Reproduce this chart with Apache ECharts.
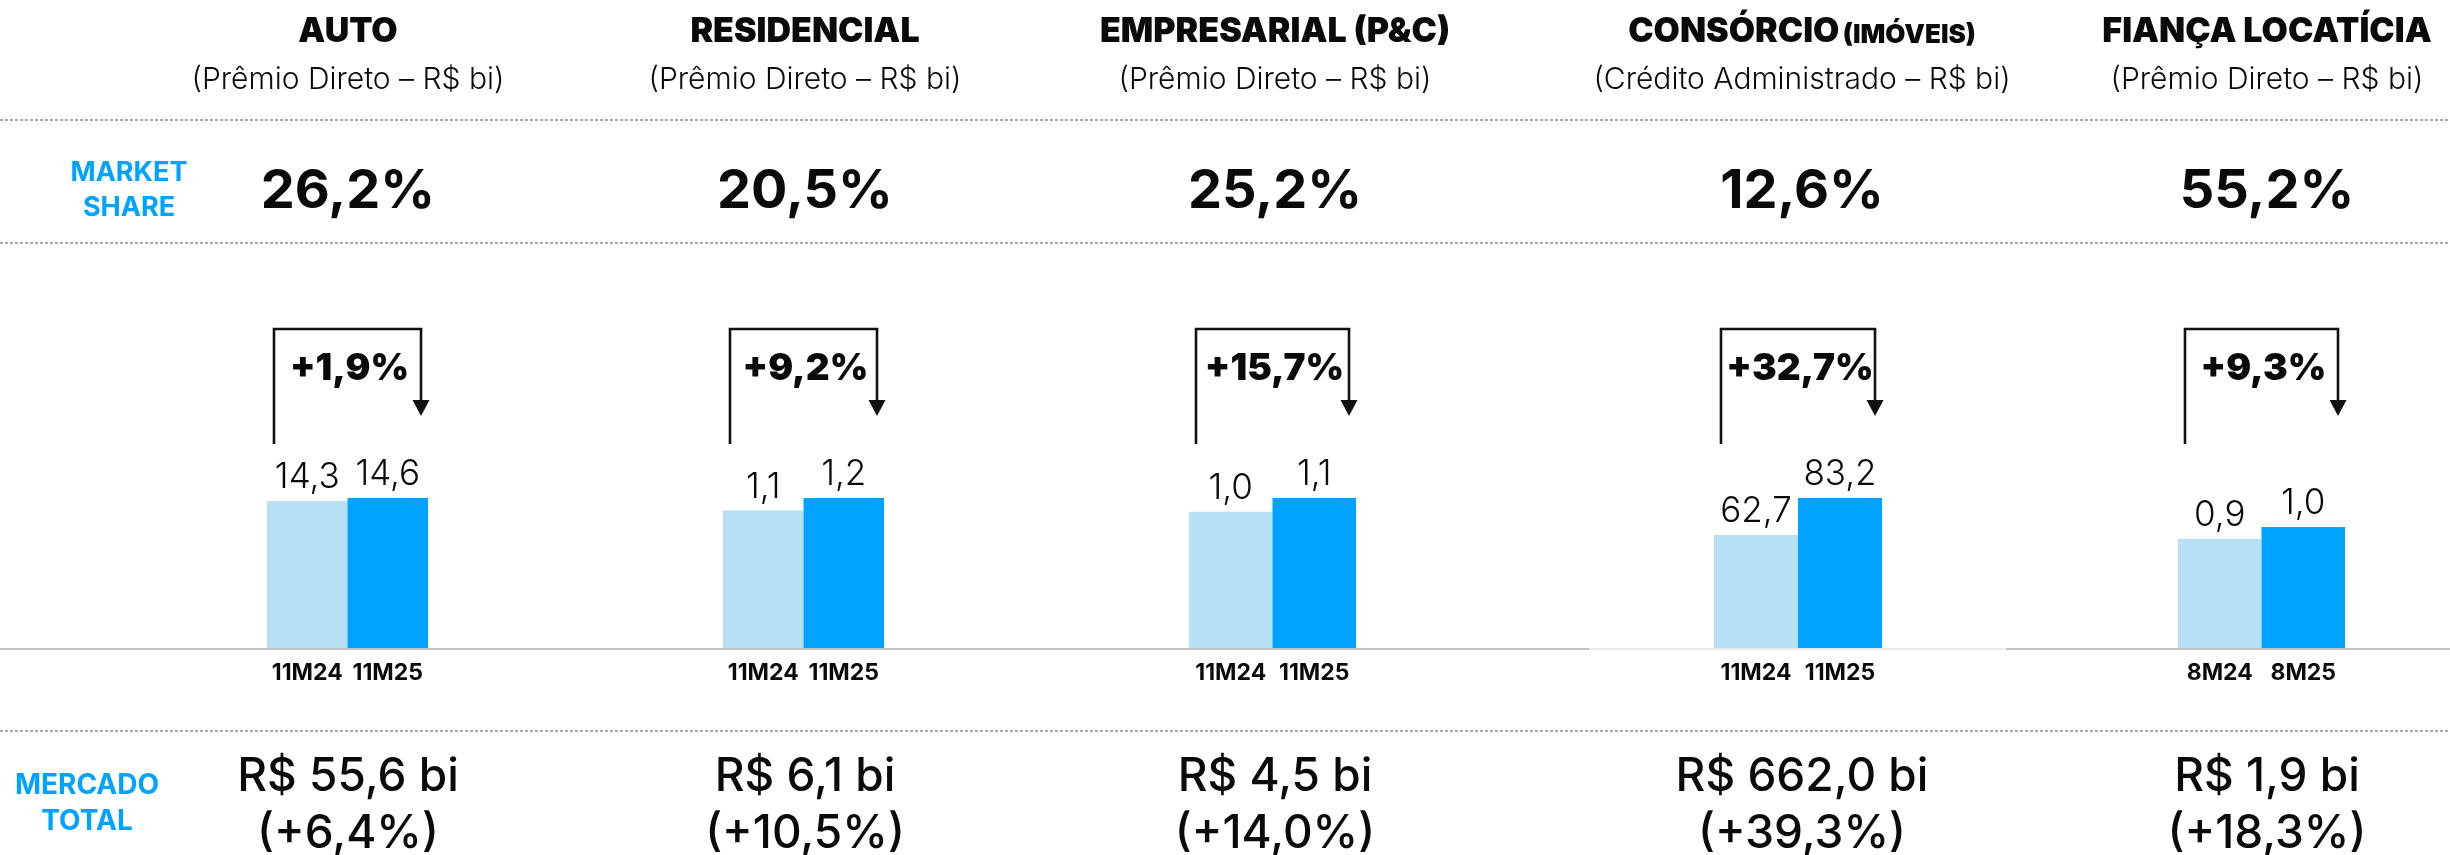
<!DOCTYPE html>
<html>
<head>
<meta charset="utf-8">
<script src="https://cdn.jsdelivr.net/npm/echarts@6/dist/echarts.min.js"></script>
<style>
html,body{margin:0;padding:0;background:#fff;}
#chart{width:2450px;height:855px;}
</style>
</head>
<body>
<div id="chart"></div>
<script>
// ---------- DATA ----------
const titles = ['AUTO', 'RESIDENCIAL', 'EMPRESARIAL (P&C)', 'CONSÓRCIO', 'FIANÇA LOCATÍCIA'];
const titleSuffix = ['', '', '', '(IMÓVEIS)', ''];
const subtitles = [
  '(Prêmio Direto – R$ bi)',
  '(Prêmio Direto – R$ bi)',
  '(Prêmio Direto – R$ bi)',
  '(Crédito Administrado – R$ bi)',
  '(Prêmio Direto – R$ bi)'
];
const marketShare = ['26,2%', '20,5%', '25,2%', '12,6%', '55,2%'];
const periods = [
  ['11M24', '11M25'],
  ['11M24', '11M25'],
  ['11M24', '11M25'],
  ['11M24', '11M25'],
  ['8M24', '8M25']
];
const prevValues = [14.3, 1.1, 1.0, 62.7, 0.9];
const currValues = [14.6, 1.2, 1.1, 83.2, 1.0];
const growth = ['+1,9%', '+9,2%', '+15,7%', '+32,7%', '+9,3%'];
const marketTotal = ['R$ 55,6 bi', 'R$ 6,1 bi', 'R$ 4,5 bi', 'R$ 662,0 bi', 'R$ 1,9 bi'];
const marketGrowth = ['(+6,4%)', '(+10,5%)', '(+14,0%)', '(+39,3%)', '(+18,3%)'];
const rowLabelShare = 'MARKET\nSHARE';
const rowLabelTotal = 'MERCADO\nTOTAL';

// ---------- LAYOUT / STYLE ----------
const FONT = 'Inter, "Open Sans", Roboto, sans-serif';
const BLUE = '#00A3FF';
const LIGHT = '#B7E0F5';
const INK = '#0a0a0a';
const barCenters = [347.5, 803.5, 1272.5, 1798, 2261.5];
const barWidths = [80.5, 80.5, 83.5, 84, 83.5];
const plotHeights = [150, 150, 150, 150, 121];
const textCenters = [348, 805, 1275, 1802, 2267];
const BASE_Y = 648;

const fmt = v => v.toFixed(1).replace('.', ',');

const grids = [], xAxes = [], yAxes = [], series = [];
for (let i = 0; i < titles.length; i++) {
  grids.push({
    left: barCenters[i] - barWidths[i],
    width: barWidths[i] * 2,
    top: BASE_Y - plotHeights[i],
    height: plotHeights[i],
    containLabel: false
  });
  xAxes.push({
    type: 'category', gridIndex: i, data: periods[i],
    axisLine: {show: false}, axisTick: {show: false}, splitLine: {show: false},
    axisLabel: {margin: 14, fontFamily: FONT, fontSize: 23, fontWeight: 700, color: INK, interval: 0}
  });
  yAxes.push({
    type: 'value', gridIndex: i, min: 0, max: 'dataMax', show: false,
    splitLine: {show: false}
  });
  series.push({
    type: 'bar', xAxisIndex: i, yAxisIndex: i,
    barCategoryGap: '0%',
    data: [
      {value: prevValues[i], itemStyle: {color: LIGHT}},
      {value: currValues[i], itemStyle: {color: BLUE}}
    ],
    label: {
      show: true, position: 'top', distance: 6,
      fontFamily: FONT, fontSize: 35, fontWeight: 300, color: INK,
      formatter: p => fmt(p.value)
    },
    silent: true, animation: false
  });
}

const chart = echarts.init(document.getElementById('chart'), null, {renderer: 'canvas'});
chart.setOption({
  backgroundColor: '#ffffff',
  animation: false,
  grid: grids, xAxis: xAxes, yAxis: yAxes, series: series
});

// ---------- DECORATIONS ----------
const g = [];
[120, 243, 731].forEach(y => g.push({
  type: 'line', shape: {x1: 0, y1: y, x2: 2450, y2: y},
  style: {stroke: '#555', lineWidth: 1.2, lineDash: [3, 2]}, silent: true
}));
[[0, 1589, '#c4c4c4'], [1589, 2006, '#ebebeb'], [2006, 2450, '#c4c4c4']].forEach(s => g.push({
  type: 'line', shape: {x1: s[0], y1: BASE_Y + 1, x2: s[1], y2: BASE_Y + 1},
  style: {stroke: s[2], lineWidth: 2}, silent: true, z: 10
}));
g.push({type: 'text', style: {text: rowLabelShare, x: 129, y: 190, align: 'center', verticalAlign: 'middle',
  font: '700 27px ' + FONT, fill: BLUE, lineHeight: 35}});
g.push({type: 'text', style: {text: rowLabelTotal, x: 87, y: 804, align: 'center', verticalAlign: 'middle',
  font: '700 28px ' + FONT, fill: BLUE, lineHeight: 36}});

for (let i = 0; i < titles.length; i++) {
  const cx = textCenters[i];
  g.push({type: 'text', style: {
    text: titleSuffix[i] ? '{a|' + titles[i] + '} {b|' + titleSuffix[i] + '}' : '{a|' + titles[i] + '}',
    x: cx, y: 32, align: 'center', verticalAlign: 'middle',
    rich: {
      a: {fontFamily: FONT, fontSize: 34, fontWeight: 900, fill: INK, color: INK},
      b: {fontFamily: FONT, fontSize: 26, fontWeight: 900, fill: INK, color: INK, verticalAlign: 'bottom', padding: [0, 0, 1, 0]}
    }
  }});
  g.push({type: 'text', style: {text: subtitles[i], x: cx, y: 80, align: 'center', verticalAlign: 'middle',
    font: '300 30px ' + FONT, fill: INK}});
  g.push({type: 'text', style: {text: marketShare[i], x: cx, y: 192, align: 'center', verticalAlign: 'middle',
    font: '700 54px ' + FONT, fill: INK}});
  g.push({type: 'text', style: {text: marketTotal[i], x: cx, y: 777, align: 'center', verticalAlign: 'middle',
    font: '500 46px ' + FONT, fill: INK}});
  g.push({type: 'text', style: {text: marketGrowth[i], x: cx, y: 834, align: 'center', verticalAlign: 'middle',
    font: '500 46px ' + FONT, fill: INK}});

  const x0 = chart.convertToPixel({xAxisIndex: i}, 0);
  const x1 = chart.convertToPixel({xAxisIndex: i}, 1);
  const band = x1 - x0;
  const left = x0 - band / 2 + 7;
  const right = x1 + band / 2 - 7;
  const top = 329;
  g.push({type: 'polyline', shape: {points: [[left, 444], [left, top], [right, top], [right, 402]]},
    style: {stroke: '#111', lineWidth: 2.6, fill: null}, silent: true});
  g.push({type: 'polygon', shape: {points: [[right - 8.5, 400], [right + 8.5, 400], [right, 416]]},
    style: {fill: '#111'}, silent: true});
  g.push({type: 'text', style: {text: growth[i], x: (x0 + x1) / 2 + 2, y: 369, align: 'center', verticalAlign: 'middle',
    font: '900 37px ' + FONT, fill: INK}});
}

chart.setOption({graphic: {elements: g}});
</script>
</body>
</html>
